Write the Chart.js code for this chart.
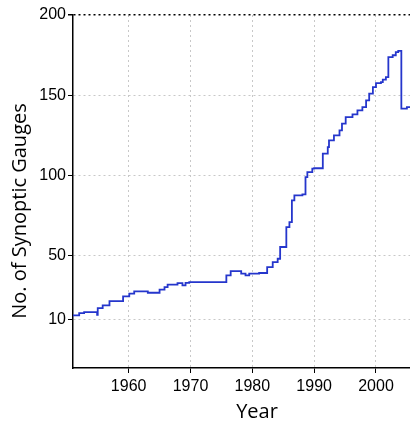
<!DOCTYPE html>
<html>
<head>
<meta charset="utf-8">
<script src="https://cdn.jsdelivr.net/npm/chart.js@4/dist/chart.umd.min.js"></script>
<style>
  html, body { margin: 0; padding: 0; background: #fff; overflow: hidden; }
  #wrap { position: relative; width: 410px; height: 424px; }
</style>
</head>
<body>
<div id="wrap"><canvas id="gauges"></canvas></div>
<script>
// step points: year where the count changes, and the new count
const years = [
    1951.0, 1952.0, 1952.8, 1954.9, 1955.0, 1955.8, 1956.9, 1959.1, 1960.1, 1960.9,
    1963.1, 1965.0, 1965.8, 1966.3, 1967.9, 1968.7, 1969.2, 1969.8, 1975.8, 1976.5,
    1978.2, 1978.9, 1979.5, 1981.1, 1982.4, 1983.3, 1984.1, 1984.5, 1985.5, 1986.0,
    1986.4, 1986.8, 1988.1, 1988.6, 1988.9, 1989.7, 1990.0, 1991.4, 1992.2, 1992.4,
    1993.2, 1994.1, 1994.5, 1995.1, 1996.2, 1997.0, 1997.8, 1998.4, 1998.9, 1999.5,
    2000.0, 2000.8, 2001.1, 2001.6, 2002.0, 2002.7, 2003.2, 2003.6, 2004.1, 2005.0,
    2005.5
];
const gauges = [
    12.8, 14.2, 14.8, 13.2, 17.3, 19.0, 21.7, 24.6, 26.3, 27.7,
    26.9, 28.8, 30.4, 31.9, 32.9, 31.5, 33.0, 33.5, 37.7, 40.4,
    38.8, 37.7, 38.8, 39.2, 42.9, 46.0, 48.1, 55.4, 67.8, 70.9,
    84.5, 87.6, 88.2, 99.0, 102.1, 104.2, 104.5, 113.6, 117.7, 121.9,
    125.0, 128.1, 132.3, 136.4, 138.1, 140.6, 142.6, 146.8, 151.0, 155.1,
    157.6, 158.2, 159.7, 161.3, 173.8, 174.9, 176.9, 177.6, 141.6, 142.6,
    142.6
];
const xTicks = [1960, 1970, 1980, 1990, 2000];
const yTicks = [10, 50, 100, 150, 200];

const xTitle = "Year";
const yTitle = "No. of Synoptic Gauges";

const points = years.map((yr, i) => ({ x: yr, y: gauges[i] }));

const tickFont = { family: "'Liberation Sans Narrow', 'Liberation Sans', sans-serif", size: 16 };
const gridColor = "#c8c8c8";

// axis titles drawn by hand so they sit where the original has them
const axisTitles = {
    id: "axisTitles",
    afterDraw(chart) {
        const { ctx, chartArea } = chart;
        ctx.save();
        ctx.fillStyle = "#000";
        ctx.font = "20px 'Open Sans', sans-serif";
        ctx.textAlign = "center";
        ctx.textBaseline = "middle";
        ctx.fillText(xTitle, chartArea.left + 184, chartArea.bottom + 44);
        ctx.translate(chartArea.left - 53, chartArea.top + 196);
        ctx.rotate(-Math.PI / 2);
        ctx.fillText(yTitle, 0, 0);
        ctx.restore();
    }
};

const context = document.getElementById("gauges").getContext("2d");
const gaugeChart = new Chart(context, {
    type: "line",
    data: {
        datasets: [{
            data: points,
            borderColor: "#2536cc",
            borderWidth: 1.8,
            pointRadius: 0,
            stepped: true,
            fill: false
        }]
    },
    options: {
        responsive: true,
        maintainAspectRatio: false,
        animation: false,
        layout: { padding: { top: 15, right: 0, bottom: 0, left: 0 } },
        plugins: {
            legend: { display: false },
            tooltip: { enabled: false }
        },
        scales: {
            x: {
                type: "linear",
                min: 1951,
                max: 2005.5,
                afterBuildTicks: (scale) => { scale.ticks = xTicks.map(v => ({ value: v })); },
                afterFit: (scale) => { scale.height = 56; },
                ticks: {
                    font: tickFont,
                    color: "#000",
                    padding: 4,
                    maxRotation: 0,
                    callback: (v) => String(v)
                },
                grid: {
                    color: gridColor,
                    tickColor: "#000",
                    tickLength: 5,
                    lineWidth: 1
                },
                border: { display: true, color: "#000", width: 1.5, dash: [2, 3] }
            },
            y: {
                min: -20,
                max: 200,
                afterBuildTicks: (scale) => { scale.ticks = yTicks.map(v => ({ value: v })); },
                afterFit: (scale) => { scale.width = 73; },
                ticks: {
                    font: tickFont,
                    color: "#000",
                    padding: 2,
                    callback: (v) => String(v)
                },
                grid: {
                    color: (c) => (c.tick && c.tick.value === 200 ? "#000" : gridColor),
                    lineWidth: (c) => (c.tick && c.tick.value === 200 ? 1.5 : 1),
                    tickColor: "#000",
                    tickLength: 5
                },
                border: { display: true, color: "#000", width: 1.5, dash: [2, 3] }
            }
        }
    },
    plugins: [axisTitles]
});
</script>
</body>
</html>
